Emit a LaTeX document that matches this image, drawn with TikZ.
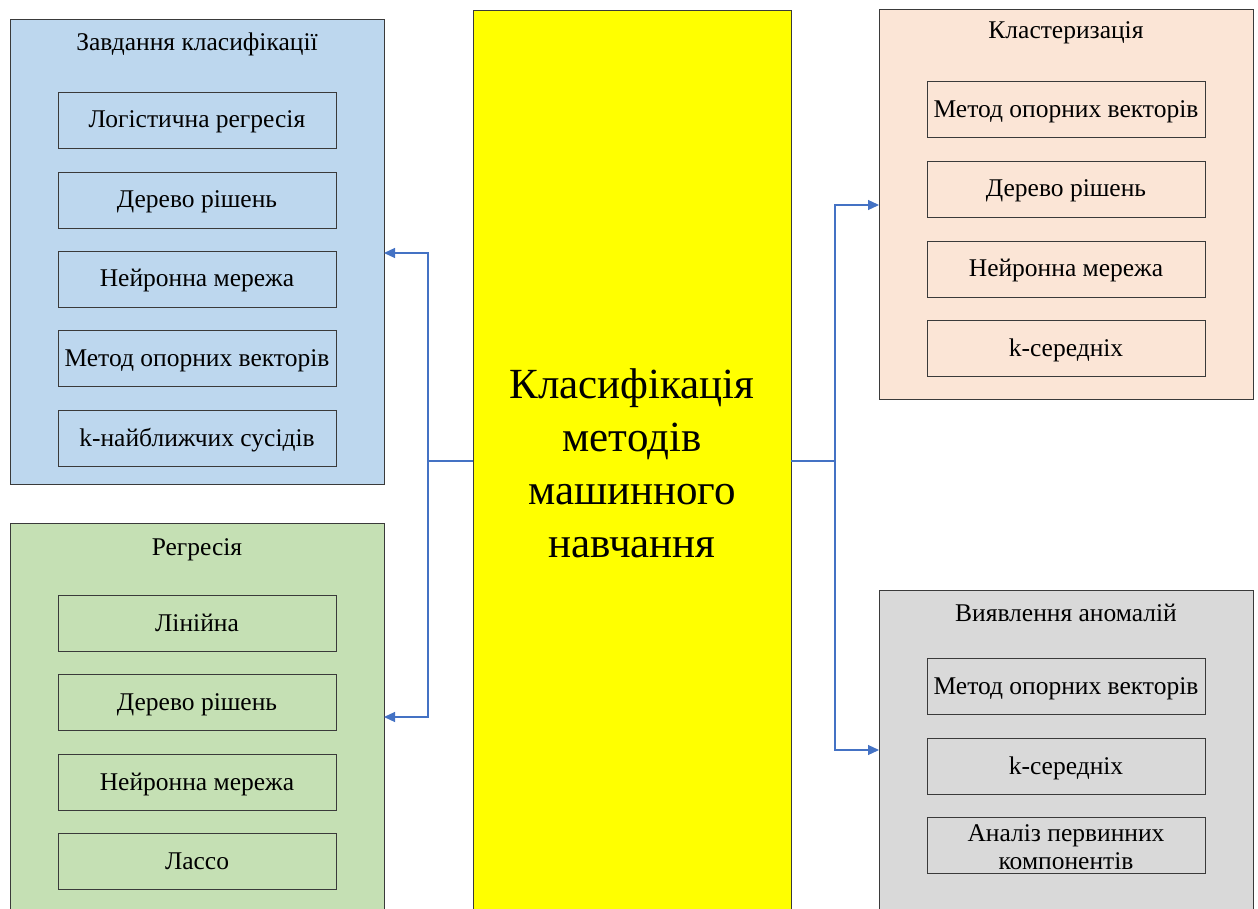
\documentclass[tikz,border=0pt]{standalone}
\usepackage{fontspec}
\setmainfont{Liberation Serif}
\usetikzlibrary{arrows.meta}
\definecolor{clsblue}{HTML}{BDD7EE}
\definecolor{reggreen}{HTML}{C5E0B4}
\definecolor{clupeach}{HTML}{FBE5D6}
\definecolor{anogray}{HTML}{D9D9D9}
\definecolor{linkblue}{HTML}{4472C4}
\definecolor{edgegray}{HTML}{3A3A3A}
\definecolor{brightyellow}{HTML}{FFFF00}
\begin{document}
\begin{tikzpicture}[x=1pt,y=-1pt,
  group/.style={draw=edgegray,line width=1pt},
  item/.style={draw=edgegray,line width=0.9pt,minimum width=278pt,minimum height=56pt,
    font=\fontsize{25.5}{29}\selectfont,align=center,inner sep=0pt,
    text height=19pt,text depth=3pt},
  grouptitle/.style={font=\fontsize{25.5}{29}\selectfont,anchor=center,
    text height=19pt,text depth=3pt},
  link/.style={draw=linkblue,line width=1.2pt,-{Triangle[length=11pt,width=10pt]}}]
\useasboundingbox (0,0) rectangle (1258,909);
\clip (0,0) rectangle (1258,909);
% group panels
\path[group,fill=clsblue] (10,20) rectangle (384,484);
\path[group,fill=reggreen] (10,523) rectangle (384,930);
\path[group,fill=clupeach] (879,10) rectangle (1253,399);
\path[group,fill=anogray] (879,590) rectangle (1253,930);
% central block
\node[draw=edgegray,line width=1pt,fill=brightyellow,minimum width=318pt,minimum height=920pt,anchor=north west] (main) at (473,10) {};
\node[font=\fontsize{43}{53}\selectfont,align=center] (mtext) at (632,463) {Класифікація\\методів\\машинного\\навчання};
% group anchors
\coordinate (clsR) at (384,253);
\coordinate (regR) at (384,717);
\coordinate (cluL) at (879,205);
\coordinate (anoL) at (879,750);
\coordinate (mL) at (473,461);
\coordinate (mR) at (791,461);
% titles
\node[grouptitle] (t1) at (197,43) {Завдання класифікації};
\node[grouptitle] (t2) at (197,547) {Регресія};
\node[grouptitle] (t3) at (1066,31) {Кластеризація};
\node[grouptitle] (t4) at (1066,613) {Виявлення аномалій};
% classification items
\node[item] (c1) at (197,120) {Логістична регресія};
\node[item] (c2) at (197,200) {Дерево рішень};
\node[item] (c3) at (197,279) {Нейронна мережа};
\node[item] (c4) at (197,358.5) {Метод опорних векторів};
\node[item] (c5) at (197,438) {k-найближчих сусідів};
% regression items
\node[item] (r1) at (197,623) {Лінійна};
\node[item] (r2) at (197,702) {Дерево рішень};
\node[item] (r3) at (197,782) {Нейронна мережа};
\node[item] (r4) at (197,861) {Лассо};
% clustering items
\node[item] (k1) at (1066,109.5) {Метод опорних векторів};
\node[item] (k2) at (1066,189) {Дерево рішень};
\node[item] (k3) at (1066,269) {Нейронна мережа};
\node[item] (k4) at (1066,348) {k-середніх};
% anomaly items
\node[item] (a1) at (1066,686.5) {Метод опорних векторів};
\node[item] (a2) at (1066,766) {k-середніх};
\node[item,minimum height=56pt] (a3) at (1066,845) {};
\node[font=\fontsize{25.5}{28}\selectfont,align=center,inner sep=0pt] (a3text) at (1066,847.5) {Аналіз первинних\\компонентів};
% connectors
\draw[link] (mL) -| (428,253) -- (clsR);
\draw[link] (mL) -| (428,717) -- (regR);
\draw[link] (mR) -| (835,205) -- (cluL);
\draw[link] (mR) -| (835,750) -- (anoL);
\end{tikzpicture}
\end{document}
